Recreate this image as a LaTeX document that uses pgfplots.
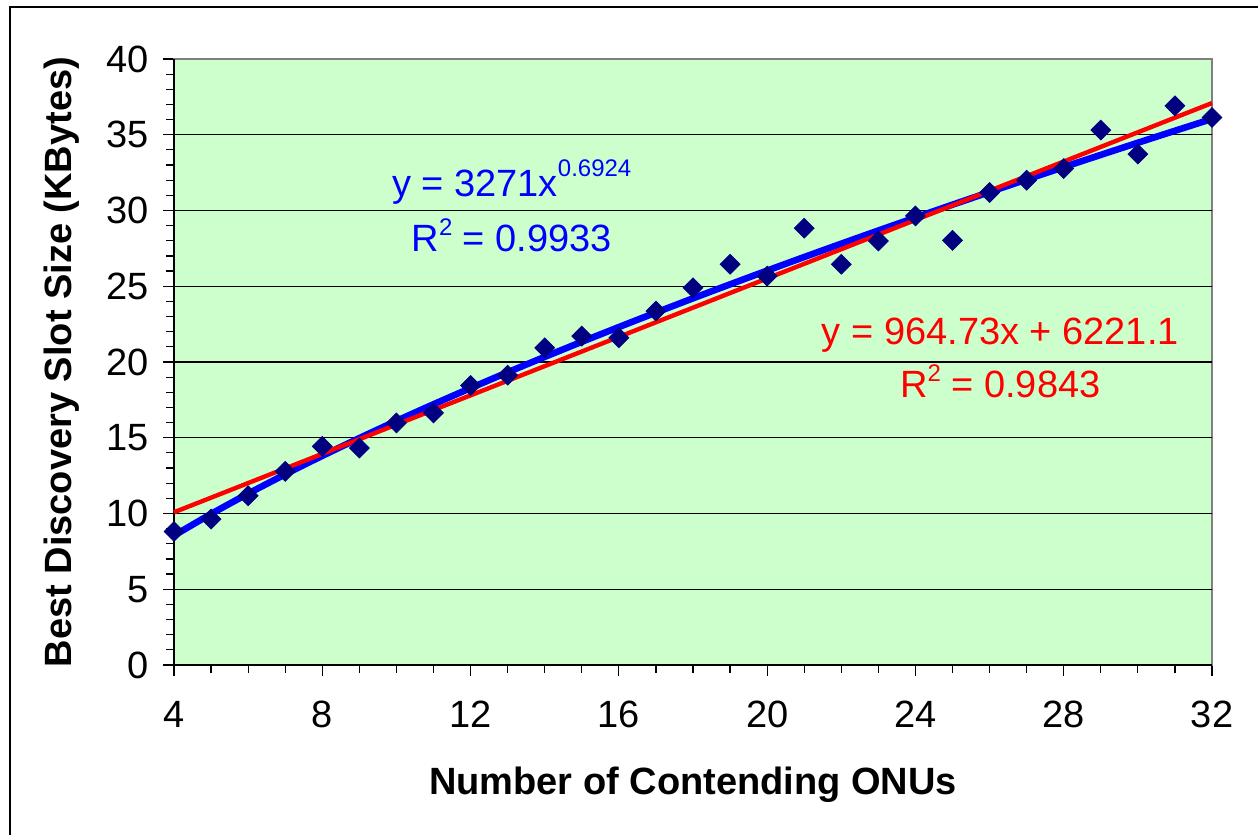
\documentclass[border=0pt]{standalone}
\usepackage{fontspec}
\setmainfont{Liberation Sans}
\usepackage{pgfplots}
\pgfplotsset{compat=1.18}
\definecolor{bg}{RGB}{204,255,204}
\definecolor{navy}{RGB}{0,0,128}
\definecolor{fitblue}{RGB}{0,0,255}
\definecolor{fitred}{RGB}{255,0,0}
\newcommand{\bigf}{\fontsize{19}{23}\selectfont}
\newcommand{\supf}{\fontsize{12}{14}\selectfont}
\begin{document}
\begin{tikzpicture}
\useasboundingbox (0,0) rectangle (629pt,417.5pt);
\draw[line width=0.7pt, black] (5pt,-2pt) -- (5pt,414pt) -- (632pt,414pt);
\begin{axis}[
  at={(87pt,85pt)}, anchor=south west,
  scale only axis, width=519pt, height=303pt,
  xmin=4, xmax=32, ymin=0, ymax=40,
  xtick={4,8,...,32}, minor xtick={4,...,32},
  ytick={0,5,...,40}, minor ytick={0,...,40},
  xtick pos=bottom, ytick pos=left,
  tick align=outside,
  major tick length=5.5pt, minor tick length=4pt,
  tick style={black, line width=0.6pt},
  extra y ticks={5,10,...,35},
  extra y tick labels={},
  extra y tick style={grid=major, major tick length=0pt},
  major grid style={black, line width=0.6pt},
  axis background/.style={fill=bg},
  axis line style={gray, line width=0.8pt},
  tick label style={font=\bigf},
  /pgf/number format/assume math mode=true,
  xticklabel style={yshift=-9pt},
  yticklabel style={xshift=-3.7pt},
  xlabel={Number of Contending ONUs},
  ylabel={Best Discovery Slot Size (KBytes)},
  xlabel style={font=\bfseries\bigf, at={(axis description cs:0.5,-0.198)}, anchor=center},
  ylabel style={font=\bfseries\bigf, at={(axis description cs:-0.108,0.5)}, anchor=center},
  clip=false,
]
\draw[black, line width=0.8pt] (rel axis cs:0,1) -- (rel axis cs:0,0) -- (rel axis cs:1,0);
% measured data
\addplot[only marks, mark=square*, mark size=3.5pt, mark options={rotate=45, fill=navy, draw=navy}] coordinates {
(4,8.81) (5,9.63) (6,11.17) (7,12.78) (8,14.43) (9,14.32) (10,15.98) (11,16.64)
(12,18.45) (13,19.13) (14,20.94) (15,21.71) (16,21.60) (17,23.36) (18,24.90)
(19,26.45) (20,25.67) (21,28.83) (22,26.45) (23,27.99) (24,29.64) (25,28.03)
(26,31.19) (27,32.00) (28,32.77) (29,35.31) (30,33.72) (31,36.91) (32,36.14)
};
% power trend
\addplot[fitblue, line width=3.3pt, line cap=round, line join=round, smooth] coordinates {
(4,8.542) (5,9.969) (6,11.310) (7,12.585) (8,13.804) (9,14.976) (10,16.110)
(11,17.209) (12,18.277) (13,19.319) (14,20.336) (15,21.331) (16,22.306)
(17,23.262) (18,24.202) (19,25.124) (20,26.033) (21,26.928) (22,27.809)
(23,28.678) (24,29.536) (25,30.383) (26,31.219) (27,32.046) (28,32.863)
(29,33.671) (30,34.471) (31,35.262) (32,36.046)
};
% linear trend
\addplot[fitred, line width=2.2pt] coordinates {(4,10.080) (32,37.092)};
\node[fitblue, font=\bigf, anchor=base] at (axis cs:13.11,30.94) {y = 3271x\raisebox{10pt}{\supf 0.6924}};
\node[fitblue, font=\bigf, anchor=base] at (axis cs:13.11,27.31) {R\raisebox{8pt}{\supf 2} = 0.9933};
\node[fitred, font=\bigf, anchor=base] at (axis cs:26.29,21.16) {y = 964.73x + 6221.1};
\node[fitred, font=\bigf, anchor=base] at (axis cs:26.29,17.65) {R\raisebox{8pt}{\supf 2} = 0.9843};
\end{axis}
\end{tikzpicture}
\end{document}
